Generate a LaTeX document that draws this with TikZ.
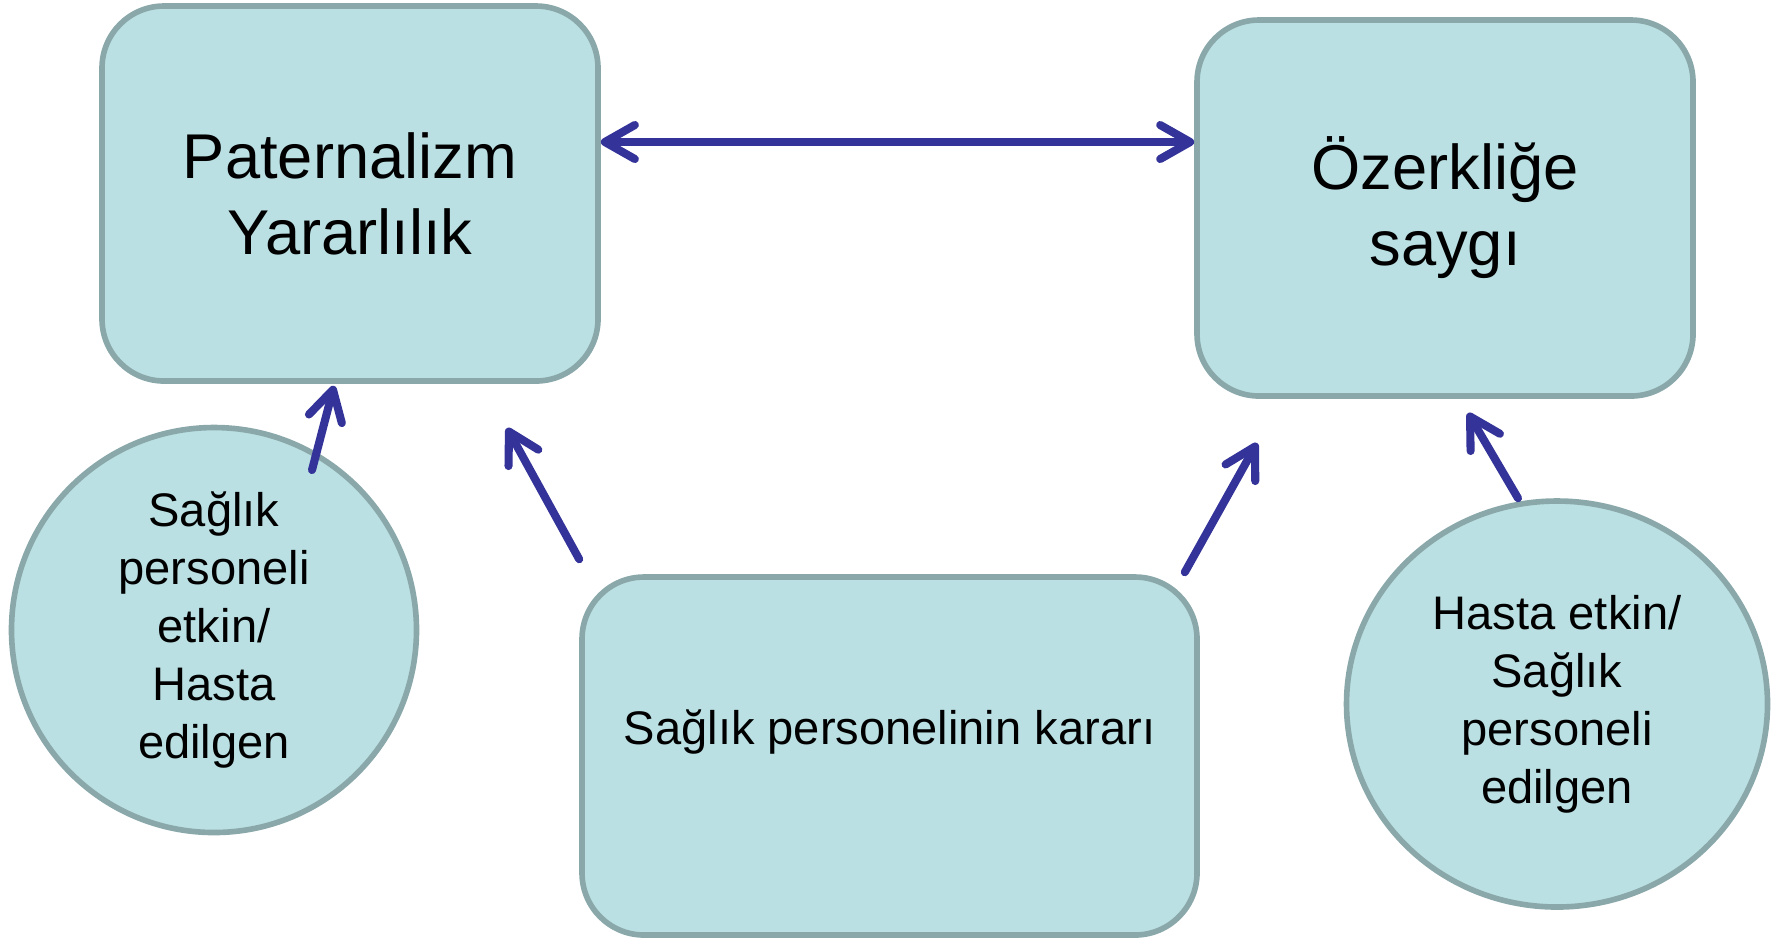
\documentclass[tikz,border=0pt]{standalone}
\usepackage{fontspec}
\setmainfont{Liberation Sans}
\usetikzlibrary{arrows.meta,calc,shapes.geometric}
\definecolor{kutuFill}{RGB}{186,224,227}
\definecolor{kutuDraw}{RGB}{138,168,170}
\definecolor{okBlue}{RGB}{51,51,153}
\newcommand\buyuk{\fontsize{18}{21.6}\selectfont}
\newcommand\kucuk{\fontsize{13.4}{16.5}\selectfont}
\tikzset{
	kutu/.style={draw=kutuDraw, fill=kutuFill, line width=1.6pt, rounded corners=6.2mm, align=center},
	daire/.style={ellipse, draw=kutuDraw, fill=kutuFill, line width=1.6pt, inner sep=0pt, align=center, font=\kucuk},
	ok/.style={draw=okBlue, line width=2.3pt, line cap=round, -{Straight Barb[length=3mm,width=3.4mm,round]}},
	ciftok/.style={ok, {Straight Barb[length=3mm,width=3.4mm,round]}-{Straight Barb[length=3mm,width=3.4mm,round]}}
}

\begin{document}
\begin{tikzpicture}
		%%%%% START %%%%%
		\useasboundingbox (0, 0) rectangle (17.85, -9.37);
		
		\node[kutu, minimum width=4.96cm, minimum height=3.75cm, font=\buyuk] (paternalizm) at (3.50, -1.935) {Paternalizm\\Yararlılık};
		\node[kutu, minimum width=4.96cm, minimum height=3.76cm, font=\buyuk] (ozerklik) at (14.45, -2.08) {Özerkliğe\\saygı};
		\node[kutu, minimum width=6.15cm, minimum height=3.58cm] (karar) at (8.895, -7.56) {};
		\node[font=\kucuk] (kararYazi) at ([yshift=2.4mm]karar.center) {Sağlık personelinin kararı};
		
		\node[daire, minimum width=4.05cm, minimum height=4.05cm] (saglik) at (2.14, -6.30) {Sağlık\\personeli\\etkin/\\Hasta\\edilgen};
		\node[daire, minimum width=4.21cm, minimum height=4.06cm] (hasta) at (15.57, -7.04) {Hasta etkin/\\Sağlık\\personeli\\edilgen};
		
		% free ends of the arrows
		\coordinate (ucA) at (5.07, -4.28);
		\coordinate (ucB) at (12.57, -4.43);
		\coordinate (ucC) at (14.68, -4.13);
		
		\draw[ciftok] ([yshift=5.15mm]paternalizm.east) -- ([yshift=5.15mm]paternalizm.east -| ozerklik.west);
		
		\draw[ok] ($(saglik.center)+(0.98, 1.60)$) -- ([shift={(-1.6mm,-0.2mm)}]paternalizm.south);
		\draw[ok] ([yshift=1.5mm]karar.north west) -- (ucA);
		\draw[ok] ([shift={(-1.5mm,0.2mm)}]karar.north east) -- (ucB);
		\draw[ok] ([xshift=-3.9mm]hasta.north) -- (ucC);
		
		%%%%% END %%%%%
	\end{tikzpicture}
\end{document}
